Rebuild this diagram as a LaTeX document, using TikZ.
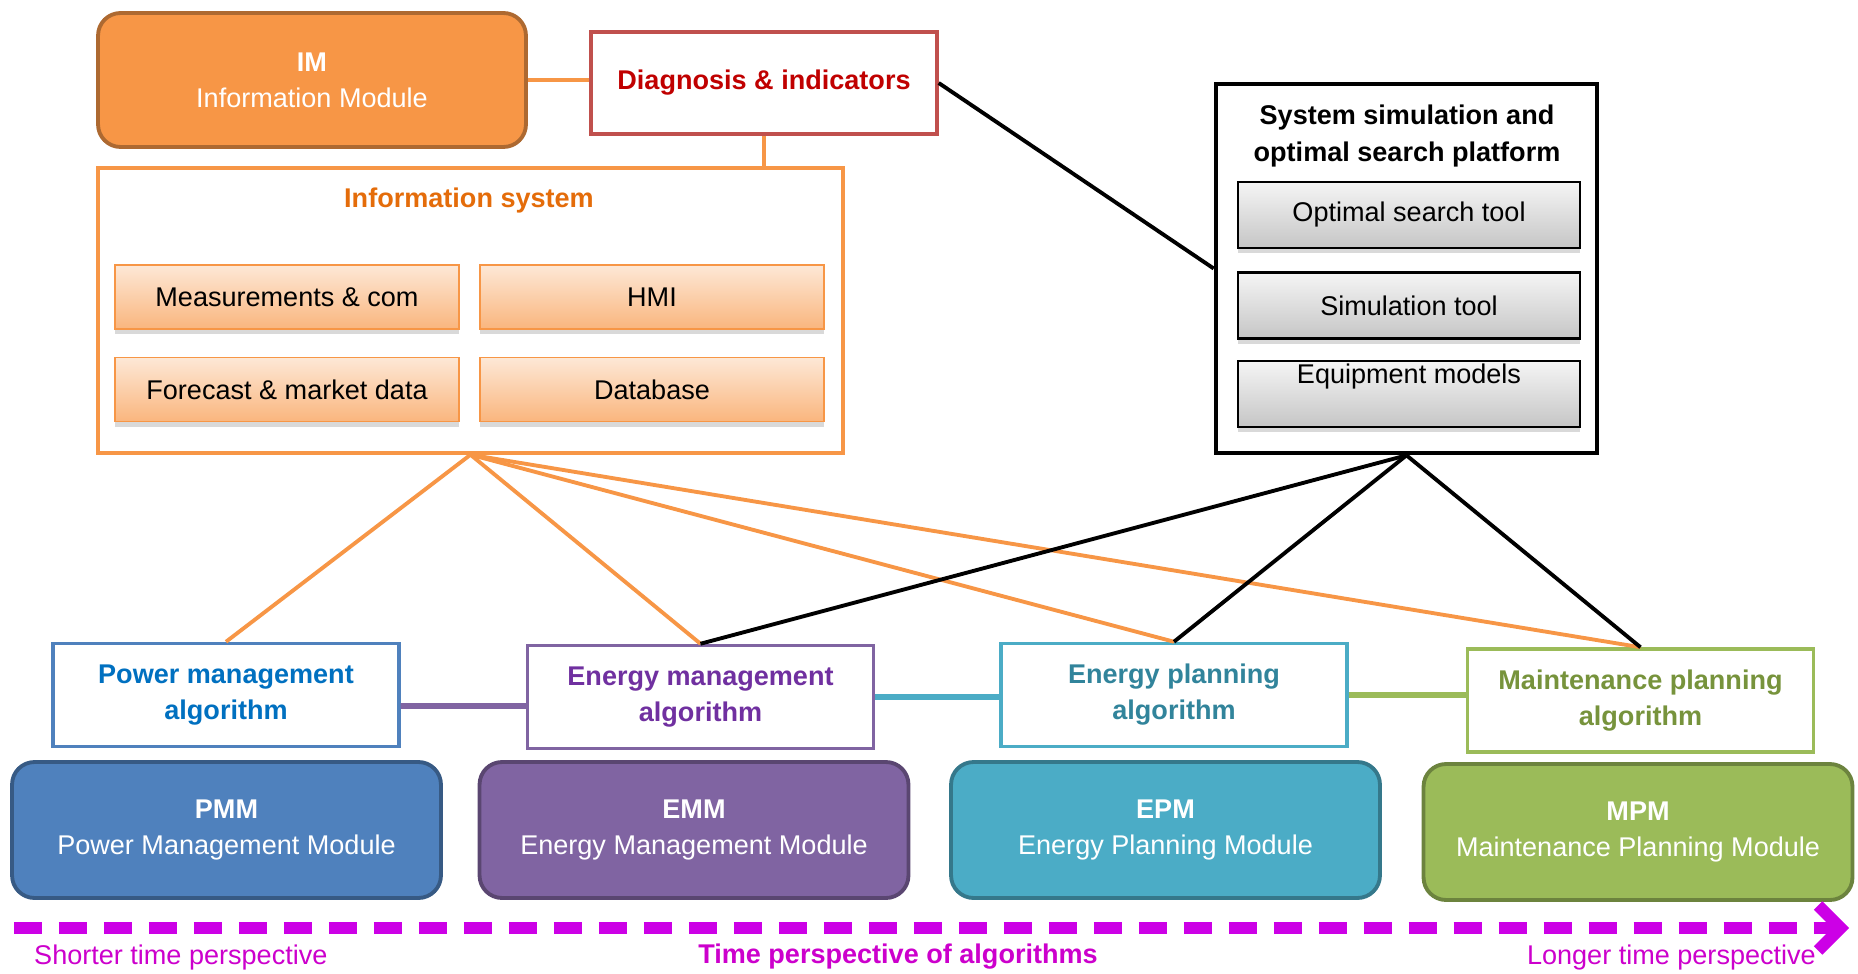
\documentclass[tikz,border=0pt]{standalone}
\usepackage{fontspec}
\setmainfont{Liberation Sans}
\usetikzlibrary{arrows.meta,shadows}

\definecolor{imorange}{RGB}{247,150,70}
\definecolor{infotext}{RGB}{228,108,10}
\definecolor{diagred}{RGB}{192,80,77}
\definecolor{diagtext}{RGB}{192,0,0}
\definecolor{pmblue}{RGB}{79,129,189}
\definecolor{pmtext}{RGB}{0,112,192}
\definecolor{empurple}{RGB}{128,100,162}
\definecolor{emtext}{RGB}{112,48,160}
\definecolor{epteal}{RGB}{75,172,198}
\definecolor{eptext}{RGB}{49,132,155}
\definecolor{mpgreen}{RGB}{155,187,89}
\definecolor{mptext}{RGB}{119,147,60}
\definecolor{timemag}{RGB}{204,0,230}
\definecolor{timetext}{RGB}{204,0,204}

\newcommand\diagfont{\fontsize{15.4}{20.5}\selectfont}

\begin{document}
\begin{tikzpicture}[x=0.02cm, y=-0.02cm, font=\diagfont,
    module/.style={draw=#1!70!black, fill=#1, line width=2.2pt, rounded corners=0.45cm,
      minimum width=8.58cm, minimum height=2.72cm, align=center, text=white},
    algo/.style={draw=#1, fill=white, line width=2pt, minimum width=6.92cm,
      minimum height=2.06cm, align=center, font=\diagfont\bfseries},
    infocell/.style={draw=imorange, line width=0.8pt, top color=imorange!22, bottom color=imorange!70,
      minimum width=6.88cm, minimum height=1.28cm,
      drop shadow={shadow xshift=0pt, shadow yshift=-3pt, opacity=0.3}},
    toolcell/.style={draw=black, line width=1.5pt, top color=gray!8, bottom color=gray!45,
      minimum width=6.84cm, minimum height=1.32cm,
      drop shadow={shadow xshift=0pt, shadow yshift=-3pt, opacity=0.3}},
    orangelink/.style={imorange, line width=2.2pt},
    blacklink/.style={black, line width=2.2pt}]
  \useasboundingbox (0,0) rectangle (1858,973);

  % Information module and diagnosis
  \node[module=imorange, minimum width=8.56cm, minimum height=2.68cm] (im) at (312,80)
    {\textbf{IM}\\Information Module};
  \node[draw=diagred, line width=2pt, minimum width=6.92cm, minimum height=2.04cm,
    text=diagtext, font=\diagfont\bfseries] (diag) at (764,83) {Diagnosis \& indicators};

  % Information system
  \node[draw=imorange, line width=2pt, minimum width=14.9cm, minimum height=5.7cm] (infosys) at (470.5,310.5) {};
  \node[text=infotext, font=\diagfont\bfseries] (infotitle) at (469,201) {Information system};
  \node[infocell] (meas) at (287,297) {Measurements \& com};
  \node[infocell] (hmi) at (652,297) {HMI};
  \node[infocell] (fcst) at (287,389.5) {Forecast \& market data};
  \node[infocell] (db) at (652,389.5) {Database};

  % Simulation and search platform
  \node[draw, line width=2.7pt, minimum width=7.62cm, minimum height=7.38cm] (sysplat) at (1406.5,268.5) {};
  \node[font=\diagfont\bfseries, align=center] (systitle) at (1407,136)
    {System simulation and\\optimal search platform};
  \node[toolcell] (optim) at (1409,215) {Optimal search tool};
  \node[toolcell] (simtool) at (1409,305.5) {Simulation tool};
  \node[toolcell] (equip) at (1409,394) {};
  \node[anchor=north, inner sep=2pt] (equiplbl) at (equip.north) {Equipment models};

  % Algorithms
  \node[algo=pmblue, text=pmtext] (pma) at (226,695) {Power management\\algorithm};
  \node[algo=empurple, text=emtext] (ema) at (700.5,697) {Energy management\\algorithm};
  \node[algo=epteal, text=eptext] (epa) at (1174,695) {Energy planning\\algorithm};
  \node[algo=mpgreen, text=mptext] (mpa) at (1640.5,700.5) {Maintenance planning\\algorithm};

  % Modules
  \node[module=pmblue] (pmm) at (226.5,830) {\textbf{PMM}\\Power Management Module};
  \node[module=empurple] (emm) at (694,830) {\textbf{EMM}\\Energy Management Module};
  \node[module=epteal] (epm) at (1165.5,830) {\textbf{EPM}\\Energy Planning Module};
  \node[module=mpgreen] (mpm) at (1638,832) {\textbf{MPM}\\Maintenance Planning Module};

  % Links
  \draw[orangelink, line width=2.8pt] (im.east) -- (im.east -| diag.west);
  \draw[orangelink] (diag.south) -- (diag.south |- infosys.north);
  \foreach \a in {pma,ema,epa,mpa}
    \draw[orangelink] (infosys.south) -- (\a.north);
  \draw[blacklink] (diag.east) -- (sysplat.west);
  \foreach \a in {ema,epa,mpa}
    \draw[blacklink] (sysplat.south) -- (\a.north);
  \draw[empurple, line width=3.4pt] ([yshift=-0.22cm]pma.east) -- ([yshift=-0.18cm]ema.west);
  \draw[epteal, line width=3.4pt] (ema.east) -- (ema.east -| epa.west);
  \draw[mpgreen, line width=3.4pt] (epa.east) -- (epa.east -| mpa.west);

  % Time axis
  \coordinate (tstart) at (14,928);
  \coordinate (tend) at (1849,928);
  \draw[timemag, line width=6.8pt, dash pattern=on 0.56cm off 0.34cm,
    -{Straight Barb[length=0.45cm, width=0.9cm]}] (tstart) -- (tend);
  \node[anchor=west, text=timetext] (shortlbl) at (28,957) {Shorter time perspective};
  \node[text=timetext, font=\diagfont\bfseries] (midlbl) at (898,957) {Time perspective of algorithms};
  \node[anchor=east, text=timetext] (longlbl) at (1822,957) {Longer time perspective};
\end{tikzpicture}
\end{document}
